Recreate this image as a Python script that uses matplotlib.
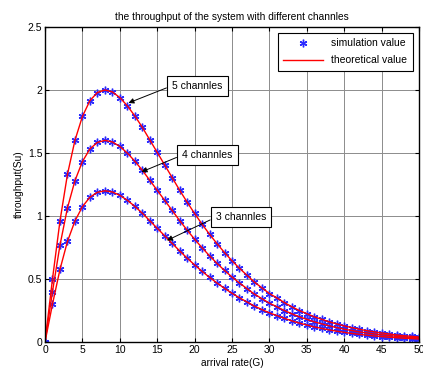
import numpy as np
import matplotlib
matplotlib.use('Agg')
import matplotlib.pyplot as plt
from matplotlib.ticker import FormatStrFormatter
from matplotlib.lines import Line2D

plt.rcParams['font.family'] = ['Liberation Sans', 'DejaVu Sans']

# arrival rate G = 0..50
G = list(range(0, 51))

s3 = [0, 0.300, 0.576, 0.798, 0.960, 1.074, 1.149, 1.188, 1.200, 1.191,
      1.164, 1.125, 1.077, 1.023, 0.963, 0.903, 0.843, 0.783, 0.723, 0.666,
      0.612, 0.561, 0.513, 0.468, 0.426, 0.387, 0.351, 0.318, 0.285, 0.258,
      0.231, 0.210, 0.188, 0.168, 0.150, 0.135, 0.120, 0.108, 0.096, 0.086,
      0.077, 0.068, 0.061, 0.054, 0.048, 0.043, 0.038, 0.034, 0.030, 0.027,
      0.024]
s4 = [0, 0.400, 0.768, 1.064, 1.280, 1.432, 1.532, 1.584, 1.600, 1.588,
      1.552, 1.500, 1.436, 1.364, 1.284, 1.204, 1.124, 1.044, 0.964, 0.888,
      0.816, 0.748, 0.684, 0.624, 0.568, 0.516, 0.468, 0.424, 0.380, 0.344,
      0.308, 0.280, 0.250, 0.224, 0.200, 0.180, 0.160, 0.144, 0.128, 0.115,
      0.102, 0.091, 0.081, 0.072, 0.064, 0.057, 0.051, 0.045, 0.040, 0.036,
      0.032]
s5 = [0, 0.500, 0.960, 1.330, 1.600, 1.790, 1.915, 1.980, 2.000, 1.985,
      1.940, 1.875, 1.795, 1.705, 1.605, 1.505, 1.405, 1.305, 1.205, 1.110,
      1.020, 0.935, 0.855, 0.780, 0.710, 0.645, 0.585, 0.530, 0.475, 0.430,
      0.385, 0.350, 0.313, 0.280, 0.250, 0.225, 0.200, 0.180, 0.160, 0.144,
      0.128, 0.114, 0.102, 0.090, 0.081, 0.072, 0.064, 0.056, 0.050, 0.045,
      0.040]

series = [s3, s4, s5]
labels = ['3 channles', '4 channles', '5 channles']
# arrow tip (data) and label box centre (data)
tips = [(16.3, 0.806), (12.9, 1.35), (11.15, 1.897)]
boxes = [(26.2, 0.99), (21.7, 1.483), (20.35, 2.034)]

fig = plt.figure(figsize=(4.23, 3.78), dpi=100)
ax = fig.add_axes([0.1064, 0.0952, 0.8841, 0.8334])

star = (6, 2, 0)
for s in series:
    ax.plot(G, s, linestyle='none', marker=star, color='#2a2aff',
            markersize=5.5, markeredgewidth=1.0)
for s in series:
    ax.plot(G, s, color='red', linewidth=1.0)

for lab, tip, box in zip(labels, tips, boxes):
    ax.annotate(lab, xy=tip, xytext=box, fontsize=7.5, ha='center', va='center',
                bbox=dict(boxstyle='square,pad=0.5', fc='white', ec='black', lw=0.8),
                arrowprops=dict(arrowstyle='-|>', color='black', lw=0.7,
                                mutation_scale=8, relpos=(0, 0.5), shrinkA=0, shrinkB=0))

ax.set_xlim(0, 50)
ax.set_ylim(0, 2.5)
ax.set_xticks(np.arange(0, 51, 5))
ax.set_yticks(np.arange(0, 2.51, 0.5))
ax.yaxis.set_major_formatter(FormatStrFormatter('%g'))
ax.tick_params(direction='in', length=3, width=0.8, top=True, right=True,
               labelsize=7.5, pad=2)
ax.grid(True, color='0.55', linewidth=0.7)
ax.set_axisbelow(True)
for sp in ax.spines.values():
    sp.set_linewidth(1.0)

ax.set_title('the throughput of the system with different channles', fontsize=7.3, pad=5)
ax.set_xlabel('arrival rate(G)', fontsize=7.3, labelpad=2)
ax.set_ylabel('throughput(Su)', fontsize=7.3, labelpad=3)

handles = [Line2D([], [], linestyle='none', marker=star, color='#2a2aff',
                  markersize=5.5, markeredgewidth=1.0),
           Line2D([], [], color='red', linewidth=1.0)]
leg = ax.legend(handles, ['simulation value', 'theoretical value'], loc='upper right',
                bbox_to_anchor=(0.984, 0.982), borderaxespad=0, fontsize=7.5,
                fancybox=False, framealpha=1, edgecolor='black', handlelength=3.8,
                borderpad=0.55, labelspacing=0.65)
leg.get_frame().set_linewidth(0.8)

fig.savefig('out.png', dpi=100)
